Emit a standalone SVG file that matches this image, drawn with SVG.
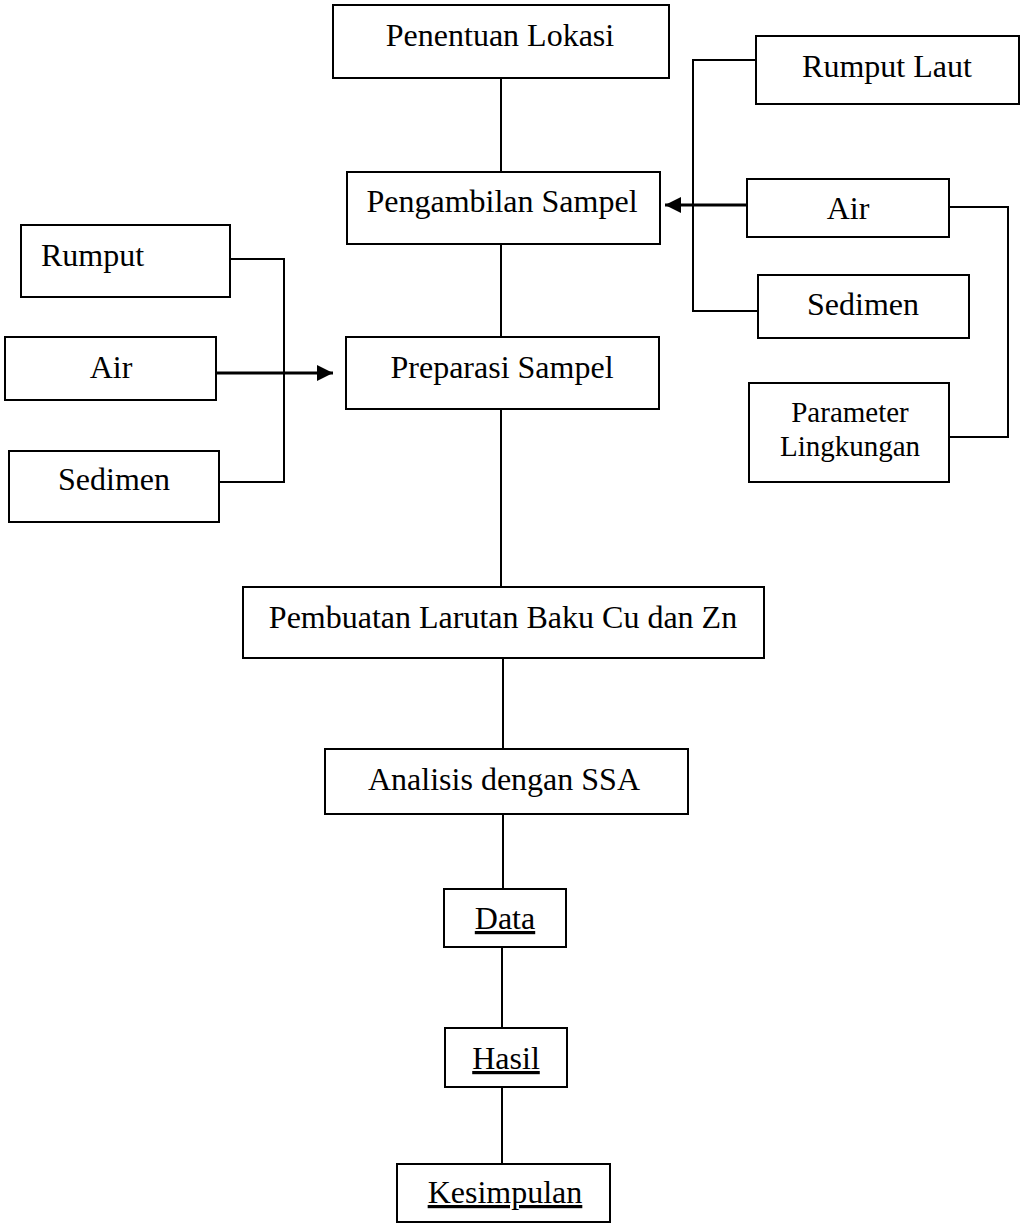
<svg xmlns="http://www.w3.org/2000/svg" width="1021" height="1225" viewBox="0 0 1021 1225">
<style>
  .box { fill: #fff; stroke: #000; stroke-width: 2; }
  .t { font-family: "Liberation Serif", "Times New Roman", serif; font-size: 32px; fill: #000; text-anchor: middle; }
  .ts { font-size: 29px; }
  .u { text-decoration: underline; }
  .c { fill: none; stroke: #000; stroke-width: 2; }
  .a { fill: none; stroke: #000; stroke-width: 3; }
</style>
<defs>
  <marker id="arr" markerUnits="userSpaceOnUse" markerWidth="16" markerHeight="16" refX="16" refY="8" orient="auto">
    <path d="M0,0 L16,8 L0,16 z" fill="#000"/>
  </marker>
</defs>
<rect width="1021" height="1225" fill="#fff"/>
<g id="connectors">
  <line class="c" x1="501" y1="78" x2="501" y2="172"/>
  <line class="c" x1="501" y1="244" x2="501" y2="337"/>
  <line class="c" x1="501" y1="409" x2="501" y2="587"/>
  <line class="c" x1="503" y1="658" x2="503" y2="749"/>
  <line class="c" x1="503" y1="814" x2="503" y2="889"/>
  <line class="c" x1="502" y1="947" x2="502" y2="1028"/>
  <line class="c" x1="502" y1="1087" x2="502" y2="1164"/>
  <polyline class="c" points="756,60 693,60 693,311 758,311"/>
  <line class="a" x1="747" y1="205" x2="665" y2="205" marker-end="url(#arr)"/>
  <polyline class="c" points="949,207 1008,207 1008,437 949,437"/>
  <polyline class="c" points="230,259 284,259 284,482 219,482"/>
  <line class="a" x1="216" y1="373" x2="333" y2="373" marker-end="url(#arr)"/>
</g>
<g id="penentuan-lokasi">
  <rect class="box" x="333" y="5" width="336" height="73"/>
  <text class="t" x="500" y="46">Penentuan Lokasi</text>
</g>
<g id="rumput-laut">
  <rect class="box" x="756" y="36" width="263" height="68"/>
  <text class="t" x="887" y="77">Rumput Laut</text>
</g>
<g id="pengambilan-sampel">
  <rect class="box" x="347" y="172" width="313" height="72"/>
  <text class="t" x="502" y="212">Pengambilan Sampel</text>
</g>
<g id="air-kanan">
  <rect class="box" x="747" y="179" width="202" height="58"/>
  <text class="t" x="848" y="219">Air</text>
</g>
<g id="sedimen-kanan">
  <rect class="box" x="758" y="275" width="211" height="63"/>
  <text class="t" x="863" y="315">Sedimen</text>
</g>
<g id="parameter-lingkungan">
  <rect class="box" x="749" y="383" width="200" height="99"/>
  <text class="t ts" x="850" y="422">Parameter</text>
  <text class="t ts" x="850" y="456">Lingkungan</text>
</g>
<g id="rumput-kiri">
  <rect class="box" x="21" y="225" width="209" height="72"/>
  <text class="t" x="41" y="266" style="text-anchor:start">Rumput</text>
</g>
<g id="air-kiri">
  <rect class="box" x="5" y="337" width="211" height="63"/>
  <text class="t" x="111" y="378">Air</text>
</g>
<g id="preparasi-sampel">
  <rect class="box" x="346" y="337" width="313" height="72"/>
  <text class="t" x="502" y="378">Preparasi Sampel</text>
</g>
<g id="sedimen-kiri">
  <rect class="box" x="9" y="451" width="210" height="71"/>
  <text class="t" x="114" y="490">Sedimen</text>
</g>
<g id="pembuatan-larutan">
  <rect class="box" x="243" y="587" width="521" height="71"/>
  <text class="t" x="503" y="628">Pembuatan Larutan Baku Cu dan Zn</text>
</g>
<g id="analisis-ssa">
  <rect class="box" x="325" y="749" width="363" height="65"/>
  <text class="t" x="504" y="790">Analisis dengan SSA</text>
</g>
<g id="data">
  <rect class="box" x="444" y="889" width="122" height="58"/>
  <text class="t u" x="505" y="929">Data</text>
</g>
<g id="hasil">
  <rect class="box" x="445" y="1028" width="122" height="59"/>
  <text class="t u" x="506" y="1069">Hasil</text>
</g>
<g id="kesimpulan">
  <rect class="box" x="397" y="1164" width="213" height="58"/>
  <text class="t u" x="505" y="1203">Kesimpulan</text>
</g>
</svg>
